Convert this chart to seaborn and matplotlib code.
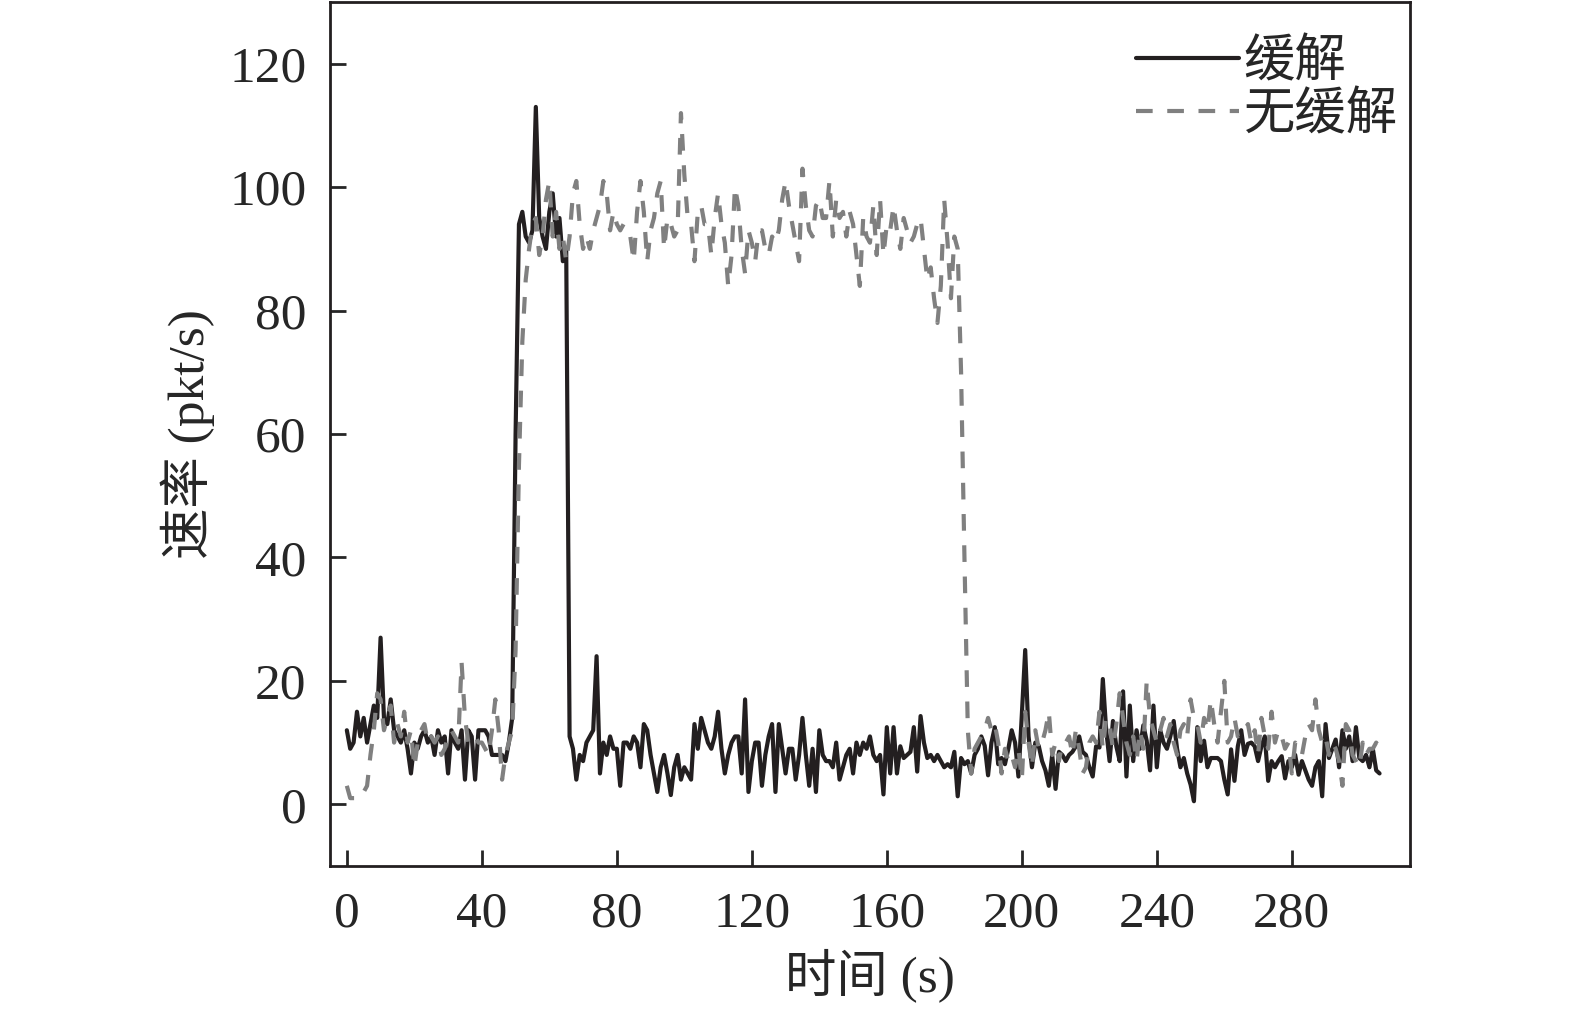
import matplotlib
matplotlib.use("Agg")
import matplotlib.pyplot as plt
import numpy as np
import pandas as pd
import seaborn as sns

# 缓解 (solid), one value per second, t = 0..306
mitigated = [
    12, 9, 10, 15, 11, 14, 10, 13, 16, 14,
    27, 14, 13, 17, 12, 11, 10, 12, 9, 5,
    10, 9, 11, 12, 10, 11, 8, 12, 10, 11,
    5, 12, 10, 9, 12, 4, 12, 11, 4, 12,
    12, 12, 11, 8, 8, 8, 8, 7, 10, 14,
    60, 94, 96, 92, 91, 93, 113, 95, 92, 90,
    96, 99, 92, 95, 88, 90, 11, 9, 4, 8,
    7, 10, 11, 12, 24, 5, 10, 8, 11, 9,
    9, 3, 10, 10, 9, 11, 10, 6, 13, 12,
    8, 5, 2, 6, 8, 5, 1.5, 6, 8, 4,
    6, 5, 4, 13, 9, 14, 12, 10, 9, 11,
    15, 9, 5, 8, 10, 11, 11, 5, 17, 2,
    7, 10, 10, 3, 8, 11, 13, 2, 13, 9,
    5, 9, 9, 4, 8, 14, 8, 3, 9, 2,
    12, 8, 7, 7, 6, 10, 4, 6, 8, 9,
    5, 10, 8, 10, 9, 11, 8, 7, 8, 1.6,
    12.5, 5, 12.5, 5, 9.4, 7.5, 8, 8.5, 12.5, 5.3,
    14.3, 10, 7.5, 8, 7, 8, 7, 6, 6.5, 6,
    8.5, 1.3, 7.5, 6.5, 7, 5, 8, 9, 11, 9.5,
    4.7, 10, 12.5, 6.5, 7.5, 6.5, 9, 12, 10, 4.5,
    14.5, 25, 11, 6, 10, 9.5, 7, 5.5, 3, 8,
    2.5, 8.5, 8, 7, 8, 8.5, 9.4, 11, 8.5, 8,
    6, 4.5, 9.4, 9.2, 20.3, 12, 7, 13.5, 9.4, 7,
    18.3, 4.5, 16, 7, 12, 9, 12.8, 10.3, 5.5, 16,
    6, 12, 10, 9, 11, 13.5, 9, 6, 7.5, 5,
    3.2, 0.5, 12.5, 7, 10.3, 6, 7.5, 7.5, 7.5, 7,
    4, 1.6, 8.9, 3.8, 9.4, 12, 8, 9.8, 10, 9.4,
    7, 9.4, 11, 3.8, 7, 6, 7, 7.8, 4.2, 7,
    6, 8, 4.8, 7, 5.5, 4, 3, 6, 7, 1.3,
    13, 7.5, 9, 10.5, 6, 12, 9, 11, 7, 12.5,
    7.5, 7, 8, 6, 9, 5.5, 5,
]

# 无缓解 (dashed)
unmitigated = [
    3, 1, 1, 1, 1, 2, 3, 8, 12, 18,
    17, 12, 14, 16, 10, 13, 11, 15, 10, 12,
    6, 10, 12, 13, 10, 11, 10, 11, 8, 9,
    11, 12, 11, 10, 23, 14, 10, 11, 11, 10,
    10, 9, 8, 12, 17, 12, 4, 8, 10, 12,
    25, 55, 75, 85, 90, 94, 95, 89, 92, 98,
    101, 92, 96, 90, 92, 88, 92, 99, 101, 94,
    90, 92, 90, 93, 95, 97, 101, 99, 93, 96,
    94, 93, 94, 93, 92, 88, 96, 101, 96, 88,
    93, 95, 99, 101, 90, 95, 94, 92, 93, 112,
    102, 95, 94, 88, 96, 97, 94, 94, 89, 95,
    99, 94, 91, 84, 89, 100, 97, 90, 86, 93,
    91, 88, 93, 93, 90, 89, 92, 91, 93, 98,
    101, 97, 94, 91, 88, 103, 97, 93, 92, 97,
    98, 95, 95, 101, 92, 98, 95, 96, 92, 96,
    94, 89, 84, 95, 92, 91, 97, 89, 98, 89,
    94, 93, 97, 93, 90, 95, 93, 91, 92, 94,
    95, 90, 85, 87, 82, 78, 84, 98, 91, 82,
    92, 90, 70, 40, 12, 5, 9, 10, 11, 12,
    14, 12, 13, 10, 5, 9, 7, 8, 6, 9,
    4, 15, 10, 6, 12, 9, 10, 12, 15, 8,
    10, 7, 10, 10, 11, 8, 12, 9, 5, 6,
    10, 11, 10, 15, 9, 14, 13, 9, 13, 18,
    14, 10, 8, 11, 7, 12, 9, 20, 14, 12,
    10, 12, 14, 11, 13, 10, 8, 12, 13, 11,
    17, 14, 13, 10, 14, 12, 17, 13, 10, 15,
    20, 10, 11, 14, 11, 12, 12, 13, 10, 12,
    8, 14, 11, 9, 15, 10, 12, 11, 9, 10,
    5, 10, 9, 8, 11, 13, 12, 17, 12, 10,
    11, 8, 10, 9, 7, 3, 13, 12, 8, 7,
    6, 10, 8, 9, 9, 10, 9,
]

time_s = np.arange(len(mitigated))
x_ticks = [0, 40, 80, 120, 160, 200, 240, 280]
y_ticks = [0, 20, 40, 60, 80, 100, 120]

df = pd.DataFrame({"时间": time_s, "缓解": mitigated, "无缓解": unmitigated})

sns.set_theme(style="ticks")
plt.rcParams["font.family"] = ["Liberation Serif", "Noto Sans CJK SC"]
plt.rcParams["axes.unicode_minus"] = False

fig = plt.figure(figsize=(15.75, 10.11), dpi=100)
ax = fig.add_axes([0.2095, 0.1434, 0.6857, 0.8546])

dash = (4, 3.5)
sns.lineplot(data=df, x="时间", y="缓解", color="#231f20", linewidth=3,
             label="缓解", ax=ax)
sns.lineplot(data=df, x="时间", y="无缓解", color="#808080", linewidth=3,
             label="无缓解", ax=ax)
ax.lines[1].set_dashes(dash)

ax.set_xlim(-5, 315)
ax.set_ylim(-10, 130)
ax.set_xticks(x_ticks)
ax.set_yticks(y_ticks)
ax.tick_params(direction="in", length=11.5, width=2, labelsize=37)
ax.tick_params(axis="x", pad=18)
ax.tick_params(axis="y", pad=17)
for spine in ax.spines.values():
    spine.set_linewidth(2)
    spine.set_color("#231f20")

ax.set_xlabel("时间 (s)", fontsize=37, labelpad=8)
ax.set_ylabel("速率 (pkt/s)", fontsize=37, labelpad=10)

leg = ax.legend(loc="upper right", bbox_to_anchor=(1.008, 0.981), frameon=False,
                fontsize=37, handlelength=2.0, handletextpad=0.1,
                labelspacing=0.1, borderpad=0.1, borderaxespad=0.3)
leg.get_lines()[1].set_dashes(dash)

fig.savefig("out.png", dpi=100)
